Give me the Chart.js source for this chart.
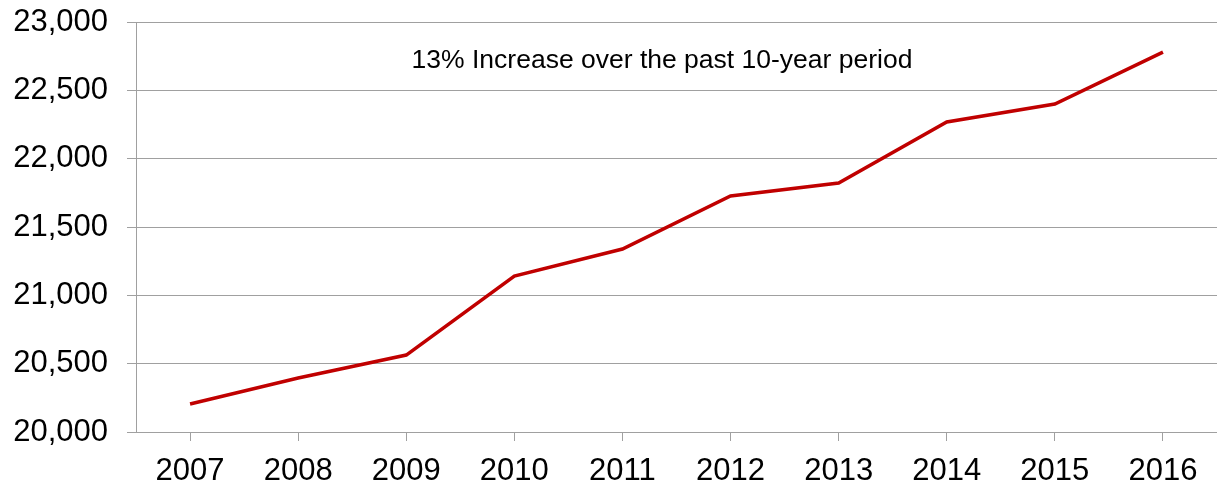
<!DOCTYPE html>
<html>
<head>
<meta charset="utf-8">
<script src="https://cdn.jsdelivr.net/npm/chart.js@4/dist/chart.umd.min.js"></script>
<style>
  html, body { margin: 0; padding: 0; background: #fff; }
  #wrap { width: 1217px; height: 487px; }
</style>
</head>
<body>
<div id="wrap"><canvas id="lineChart"></canvas></div>
<script>
// data
const years = ['2007', '2008', '2009', '2010', '2011', '2012', '2013', '2014', '2015', '2016'];
const totals = [20205, 20395, 20563, 21141, 21339, 21727, 21822, 22268, 22400, 22780];
const yMin = 20000;
const yMax = 23000;
const yStep = 500;
const note = '13% Increase over the past 10-year period';

// annotation text inside the plot
const notePlugin = {
    id: 'note',
    afterDraw(chart) {
        const ctx = chart.ctx;
        const area = chart.chartArea;
        ctx.save();
        ctx.font = '26.5px "Liberation Sans", Arial, sans-serif';
        ctx.fillStyle = '#000';
        ctx.textAlign = 'center';
        ctx.textBaseline = 'alphabetic';
        ctx.fillText(note, area.left + 526, area.top + 46);
        ctx.restore();
    }
};

const ctx = document.getElementById('lineChart').getContext('2d');
new Chart(ctx, {
    type: 'line',
    data: {
        labels: years,
        datasets: [{
            data: totals,
            borderColor: '#c00000',
            borderWidth: 3.5,
            pointRadius: 0,
            tension: 0,
            fill: false
        }]
    },
    options: {
        responsive: true,
        maintainAspectRatio: false,
        animation: false,
        layout: { padding: { top: 22, right: 0, bottom: 0, left: 0 } },
        plugins: {
            legend: { display: false },
            tooltip: { enabled: false }
        },
        scales: {
            x: {
                offset: true,
                grid: {
                    offset: false,
                    drawOnChartArea: false,
                    color: '#a0a0a0',
                    tickLength: 9,
                    lineWidth: 1
                },
                border: { color: '#a0a0a0', width: 1 },
                ticks: {
                    color: '#000',
                    font: { family: '"Liberation Sans", Arial, sans-serif', size: 31 },
                    padding: 12,
                    maxRotation: 0,
                    autoSkip: false
                },
                afterFit(scale) { scale.height = 55; }
            },
            y: {
                min: yMin,
                max: yMax,
                ticks: {
                    stepSize: yStep,
                    color: '#000',
                    // small lineHeight so the top label does not push the plot down
                    font: { family: '"Liberation Sans", Arial, sans-serif', size: 31, lineHeight: 0.1 },
                    padding: 19,
                    callback: v => v.toLocaleString('en-US')
                },
                grid: {
                    color: '#a0a0a0',
                    tickLength: 9,
                    lineWidth: 1
                },
                border: { color: '#a0a0a0', width: 1 },
                afterFit(scale) { scale.width = 136; }
            }
        }
    },
    plugins: [notePlugin]
});
</script>
</body>
</html>
